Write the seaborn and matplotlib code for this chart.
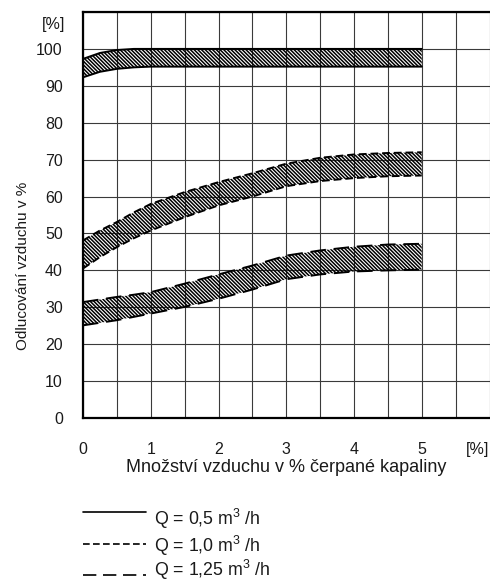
import matplotlib
matplotlib.use("Agg")
import matplotlib.pyplot as plt
from matplotlib.lines import Line2D
import seaborn as sns
import pandas as pd

# ---- data ----
x_air = [0, 0.25, 0.5, 0.75, 1, 1.5, 2, 2.5, 3, 3.5, 4, 4.5, 5]

q05_upper = [97.3, 98.9, 99.7, 100.0, 100.0, 100.0, 100.0, 100.0, 100.0, 100.0, 100.0, 100.0, 100.0]
q05_lower = [92.3, 93.8, 94.6, 95.0, 95.2, 95.2, 95.2, 95.2, 95.2, 95.2, 95.2, 95.2, 95.2]

q10_upper = [48.1, 50.8, 53.1, 55.7, 58.0, 61.2, 63.9, 66.3, 68.9, 70.5, 71.4, 71.8, 72.0]
q10_lower = [40.5, 43.6, 46.3, 48.7, 50.8, 54.4, 57.6, 60.0, 62.8, 64.2, 65.0, 65.5, 65.7]

q125_upper = [31.4, 32.1, 32.8, 33.4, 34.1, 36.4, 38.9, 41.3, 44.0, 45.4, 46.4, 47.0, 47.2]
q125_lower = [25.1, 25.8, 26.5, 27.4, 28.3, 30.1, 32.3, 34.8, 37.6, 38.9, 39.7, 40.0, 40.2]

x_tick_labels = ["0", "1", "2", "3", "4", "5", "[%]"]
y_tick_labels = ["0", "10", "20", "30", "40", "50", "60", "70", "80", "90", "100", ""]
legend_labels = ["Q = 0,5 m$^{3}$ /h", "Q = 1,0 m$^{3}$ /h", "Q = 1,25 m$^{3}$ /h"]

# ---- style ----
sns.set_style("white")
plt.rcParams["font.family"] = ["Liberation Sans", "DejaVu Sans"]
plt.rcParams["mathtext.fontset"] = "custom"
plt.rcParams["mathtext.rm"] = "Liberation Sans"
plt.rcParams["mathtext.it"] = "Liberation Sans"
plt.rcParams["hatch.linewidth"] = 1.1

fig = plt.figure(figsize=(4.9, 5.81), dpi=100)
ax = fig.add_axes([83 / 490, 1 - 418 / 581, (489.5 - 83) / 490, (418 - 12) / 581])

styles = ["-", (0, (4, 2)), (0, (8, 4))]
bands = [(q05_upper, q05_lower), (q10_upper, q10_lower), (q125_upper, q125_lower)]

for (up, lo), ls in zip(bands, styles):
    ax.fill_between(x_air, lo, up, facecolor="none", edgecolor="black",
                    hatch="\\" * 9, linewidth=0, zorder=2)
    df = pd.DataFrame({"x": x_air, "upper": up, "lower": lo})
    sns.lineplot(data=df, x="x", y="upper", ax=ax, color="black", lw=1.4,
                 linestyle=ls, zorder=3)
    sns.lineplot(data=df, x="x", y="lower", ax=ax, color="black", lw=1.4,
                 linestyle=ls, zorder=3)

ax.set_xlim(0, 6)
ax.set_ylim(0, 110)
ax.set_xticks(range(7))
ax.set_xticklabels(x_tick_labels)
ax.set_xticks([i + 0.5 for i in range(6)], minor=True)
ax.set_yticks(range(0, 111, 10))
ax.set_yticklabels(y_tick_labels)

ax.grid(True, which="both", axis="x", color="#3a3a3a", lw=0.8)
ax.grid(True, which="major", axis="y", color="#3a3a3a", lw=0.8)
ax.set_axisbelow(True)

ax.tick_params(axis="both", which="major", direction="out", length=9.5, width=1.5,
               color="black", labelsize=11.5, labelcolor="#1a1a1a")
ax.tick_params(axis="x", which="major", pad=8)
ax.tick_params(axis="y", which="major", pad=5)
ax.tick_params(axis="x", which="minor", length=0)
ax.get_xticklabels()[-1].set_horizontalalignment("right")

for s in ["left", "bottom", "top"]:
    ax.spines[s].set_linewidth(1.6)
    ax.spines[s].set_color("black")
ax.spines["right"].set_visible(False)

ax.annotate("[%]", xy=(0, 106.5), xycoords="data", xytext=(-13, 0),
            textcoords="offset points", ha="right", va="center", fontsize=11.5,
            color="#1a1a1a", annotation_clip=False)

ax.set_xlabel("Množství vzduchu v % čerpané kapaliny", fontsize=13, labelpad=1,
              color="#1a1a1a")
ax.set_ylabel("Odlucování vzduchu v %", fontsize=11, color="#1a1a1a")
ax.yaxis.set_label_coords(-0.13, 0.374)

# ---- legend (drawn under the chart) ----
line_y = [1 - 512 / 581, 1 - 544 / 581, 1 - 575 / 581]
text_y = [1 - 525 / 581, 1 - 552.5 / 581, 1 - 576.5 / 581]
for ls, ly, ty, lab in zip(styles, line_y, text_y, legend_labels):
    fig.add_artist(Line2D([83 / 490, 146 / 490], [ly, ly], color="black", lw=1.2,
                          linestyle=ls, transform=fig.transFigure))
    fig.text(154 / 490, ty, lab, fontsize=12.8, va="baseline", ha="left", color="#1a1a1a")

fig.savefig("out.png", dpi=100)
